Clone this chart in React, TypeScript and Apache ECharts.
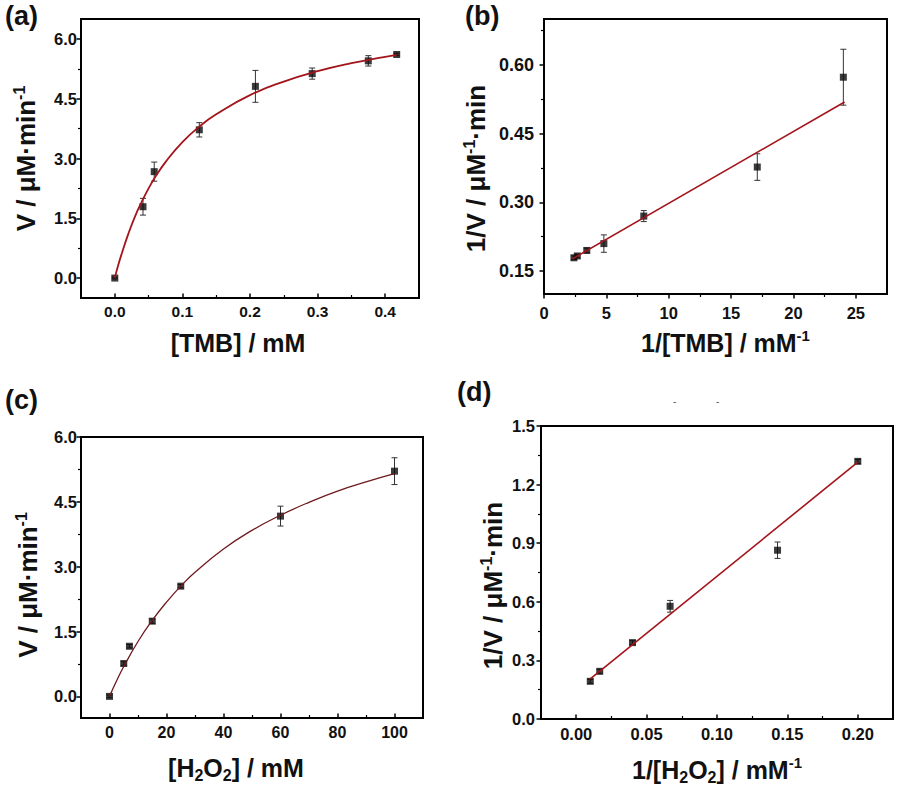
import React, { useEffect, useRef } from 'react';
import * as echarts from 'echarts';

// ---------- (a) V vs [TMB] ----------
const tmbConc = [0, 0.0417, 0.0583, 0.125, 0.208, 0.292, 0.375, 0.417];
const tmbRate = [0, 1.79, 2.67, 3.72, 4.81, 5.13, 5.45, 5.61];
const tmbRateErr = [0.02, 0.21, 0.24, 0.18, 0.4, 0.14, 0.13, 0.03];
const tmbFitX = [0, 0.005, 0.01, 0.02, 0.03, 0.04, 0.05, 0.06, 0.075, 0.1, 0.125, 0.15, 0.2, 0.25, 0.3, 0.35, 0.4, 0.417];
const tmbFitV = [0, 0.32, 0.6, 1.11, 1.55, 1.92, 2.25, 2.54, 2.91, 3.41, 3.8, 4.11, 4.59, 4.93, 5.19, 5.39, 5.55, 5.6];
const aXMajor = [0, 0.1, 0.2, 0.3, 0.4];
const aXMinor = [0.05, 0.15, 0.25, 0.35];
const aYMajor = [0, 1.5, 3, 4.5, 6];
const aYMinor = [0.75, 2.25, 3.75, 5.25];

// ---------- (b) 1/V vs 1/[TMB] ----------
const invTmb = [2.4, 2.67, 3.43, 4.8, 8.0, 17.1, 24.0];
const invTmbRate = [0.179, 0.183, 0.195, 0.21, 0.27, 0.377, 0.573];
const invTmbErr = [0.004, 0.004, 0.005, 0.019, 0.012, 0.029, 0.061];
const invTmbFitX = [2.3, 24.1];
const invTmbFitY = [0.177, 0.519];
const bXMajor = [0, 5, 10, 15, 20, 25];
const bXMinor = [2.5, 7.5, 12.5, 17.5, 22.5];
const bYMajor = [0.15, 0.3, 0.45, 0.6];
const bYMinor = [0.225, 0.375, 0.525, 0.675];

// ---------- (c) V vs [H2O2] ----------
const h2o2Conc = [0, 5, 7, 15, 25, 60, 100];
const h2o2Rate = [0, 0.76, 1.16, 1.74, 2.55, 4.17, 5.21];
const h2o2RateErr = [0.03, 0.04, 0.04, 0.05, 0.04, 0.23, 0.31];
const h2o2FitX = [0, 2.5, 5, 10, 15, 20, 25, 30, 40, 50, 60, 70, 80, 90, 100];
const h2o2FitV = [0, 0.36, 0.69, 1.27, 1.76, 2.18, 2.55, 2.87, 3.41, 3.84, 4.19, 4.49, 4.75, 4.96, 5.15];
const cXMajor = [0, 20, 40, 60, 80, 100];
const cXMinor = [10, 30, 50, 70, 90];
const cYMajor = [0, 1.5, 3, 4.5, 6];
const cYMinor = [0.75, 2.25, 3.75, 5.25];

// ---------- (d) 1/V vs 1/[H2O2] ----------
const invH2o2 = [0.01, 0.0167, 0.04, 0.0667, 0.143, 0.2];
const invH2o2Rate = [0.193, 0.244, 0.391, 0.577, 0.864, 1.319];
const invH2o2Err = [0.01, 0.01, 0.01, 0.03, 0.042, 0.01];
const invH2o2FitX = [0.01, 0.2];
const invH2o2FitY = [0.205, 1.315];
const dXMajor = [0, 0.05, 0.1, 0.15, 0.2];
const dXMinor = [0.025, 0.075, 0.125, 0.175];
const dYMajor = [0, 0.3, 0.6, 0.9, 1.2, 1.5];
const dYMinor = [0.15, 0.45, 0.75, 1.05, 1.35];

const FONT = '"Liberation Sans", Arial, Helvetica, sans-serif';
const INK = '#111';

function makeRich(size: number) {
  return {
    n: { fontSize: size, fontWeight: 'bold', fontFamily: FONT, color: INK, lineHeight: 30 },
    p: { fontSize: Math.round(size * 0.6), fontWeight: 'bold', fontFamily: FONT, color: INK, lineHeight: 20, verticalAlign: 'top' },
    s: { fontSize: Math.round(size * 0.62), fontWeight: 'bold', fontFamily: FONT, color: INK, lineHeight: 14, verticalAlign: 'bottom' },
  };
}

function axisPair(
  dim: 'x' | 'y',
  gi: number,
  min: number,
  max: number,
  major: number[],
  minor: number[],
  fmt: (v: number) => string,
  inside: boolean,
  labelMargin: number,
  labelSize: number,
  name: string,
  nameSize: number,
  nameGap: number,
  namePad: number[]
) {
  const position = dim === 'x' ? 'bottom' : 'left';
  const main = {
    type: 'value',
    gridIndex: gi,
    position,
    min,
    max,
    axisLine: { show: true, onZero: false, lineStyle: { color: '#000', width: 2 } },
    axisTick: { show: true, inside, length: 4.5, customValues: major, lineStyle: { color: '#000', width: 1.5 } },
    axisLabel: {
      show: true,
      customValues: major,
      formatter: fmt,
      margin: labelMargin,
      color: INK,
      fontSize: labelSize,
      fontWeight: 'bold',
      fontFamily: FONT,
    },
    splitLine: { show: false },
    name,
    nameLocation: 'middle',
    nameGap,
    nameMoveOverlap: false,
    nameTextStyle: {
      fontSize: nameSize,
      fontWeight: 'bold',
      fontFamily: FONT,
      color: INK,
      padding: namePad,
      rich: makeRich(nameSize),
    },
  };
  const sub = {
    type: 'value',
    gridIndex: gi,
    position,
    min,
    max,
    axisLine: { show: false, onZero: false },
    axisTick: { show: true, inside, length: 3, customValues: minor, lineStyle: { color: '#000', width: 1.2 } },
    axisLabel: { show: false },
    splitLine: { show: false },
  };
  return [main, sub];
}

function errorBarItem(_params: any, api: any) {
  const x = api.value(0);
  const lo = api.value(1);
  const hi = api.value(2);
  const pHi = api.coord([x, hi]);
  const pLo = api.coord([x, lo]);
  const cw = 3;
  const st = { stroke: '#333', lineWidth: 1 };
  return {
    type: 'group',
    children: [
      { type: 'line', shape: { x1: pHi[0], y1: pHi[1], x2: pLo[0], y2: pLo[1] }, style: st },
      { type: 'line', shape: { x1: pHi[0] - cw, y1: pHi[1], x2: pHi[0] + cw, y2: pHi[1] }, style: st },
      { type: 'line', shape: { x1: pLo[0] - cw, y1: pLo[1], x2: pLo[0] + cw, y2: pLo[1] }, style: st },
    ],
  };
}

function panelSeries(
  gi: number,
  xs: number[],
  ys: number[],
  errs: number[],
  fitX: number[],
  fitY: number[],
  lineColor: string,
  lineWidth: number,
  smooth: boolean
) {
  const xi = gi * 2;
  const yi = gi * 2;
  return [
    {
      type: 'custom',
      xAxisIndex: xi,
      yAxisIndex: yi,
      renderItem: errorBarItem,
      encode: { x: 0, y: [1, 2] },
      data: xs.map((x, i) => [x, ys[i] - errs[i], ys[i] + errs[i]]),
      z: 2,
      silent: true,
    },
    {
      type: 'scatter',
      xAxisIndex: xi,
      yAxisIndex: yi,
      symbol: 'rect',
      symbolSize: 7,
      itemStyle: { color: '#0a0a0a' },
      data: xs.map((x, i) => [x, ys[i]]),
      z: 3,
      silent: true,
    },
    {
      type: 'line',
      xAxisIndex: xi,
      yAxisIndex: yi,
      showSymbol: false,
      smooth,
      lineStyle: { color: lineColor, width: lineWidth },
      data: fitX.map((x, i) => [x, fitY[i]]),
      z: 4,
      silent: true,
    },
  ];
}

const f1 = (v: number) => v.toFixed(1);
const f2 = (v: number) => v.toFixed(2);
const f0 = (v: number) => String(Math.round(v));

export default function App() {
  const ref = useRef<HTMLDivElement>(null);
  useEffect(() => {
    if (!ref.current) return;
    const chart = echarts.init(ref.current, null, { renderer: 'svg' });

    const grids = [
      { left: 81, top: 19, width: 338, height: 279 },
      { left: 544, top: 19, width: 343, height: 275 },
      { left: 81, top: 437, width: 342, height: 281 },
      { left: 541, top: 426, width: 352, height: 293 },
    ].map((g) => ({
      ...g,
      show: true,
      borderColor: '#000',
      borderWidth: 2,
      backgroundColor: 'transparent',
      containLabel: false,
      outerBoundsMode: 'none',
    }));

    const xAxes = [
      ...axisPair('x', 0, -0.05, 0.45, aXMajor, aXMinor, f1, true, 5, 15.5, '{n|[TMB] / mM}', 25, 30, [0, 24, 0, 0]),
      ...axisPair('x', 1, 0, 27.5, bXMajor, bXMinor, f0, false, 10, 16.5, '{n|1/[TMB] / mM}{p|-1}', 25, 34, [0, 0, 0, 20]),
      ...axisPair('x', 2, -10, 110, cXMajor, cXMinor, f0, true, 6, 16, '{n|[H}{s|2}{n|O}{s|2}{n|] / mM}', 25, 35, [0, 32, 0, 0]),
      ...axisPair('x', 3, -0.025, 0.225, dXMajor, dXMinor, f2, true, 6, 16.5, '{n|1/[H}{s|2}{n|O}{s|2}{n|] / mM}{p|-1}', 25, 36, [0, 0, 0, 0]),
    ];
    const yAxes = [
      ...axisPair('y', 0, -0.5, 6.5, aYMajor, aYMinor, f1, false, 4, 16.5, '{n|V / μM·min}{p|-1}', 26, 40, [0, 0, 0, 0]),
      ...axisPair('y', 1, 0.1, 0.7, bYMajor, bYMinor, f2, false, 10, 18, '{n|1/V / μM}{p|-1}{n|·min}', 26, 53, [0, 24, 0, 0]),
      ...axisPair('y', 2, -0.5, 6, cYMajor, cYMinor, f1, false, 4, 16.5, '{n|V / μM·min}{p|-1}', 26, 38, [0, 15, 0, 0]),
      ...axisPair('y', 3, 0, 1.5, dYMajor, dYMinor, f1, false, 6, 16.5, '{n|1/V / μM}{p|-1}{n|·min}', 26, 33, [0, 26, 0, 0]),
    ];

    const series = [
      ...panelSeries(0, tmbConc, tmbRate, tmbRateErr, tmbFitX, tmbFitV, '#a3141b', 1.8, true),
      ...panelSeries(1, invTmb, invTmbRate, invTmbErr, invTmbFitX, invTmbFitY, '#a3141b', 1.6, false),
      ...panelSeries(2, h2o2Conc, h2o2Rate, h2o2RateErr, h2o2FitX, h2o2FitV, '#6e1a1f', 1.3, true),
      ...panelSeries(3, invH2o2, invH2o2Rate, invH2o2Err, invH2o2FitX, invH2o2FitY, '#a3141b', 1.6, false),
    ];

    const panelLabel = (text: string, left: number, top: number) => ({
      type: 'text',
      left,
      top,
      style: { text, fill: INK, font: `bold 27px ${FONT}` },
    });

    chart.setOption({
      animation: false,
      backgroundColor: '#fff',
      grid: grids,
      xAxis: xAxes,
      yAxis: yAxes,
      series,
      graphic: [
        panelLabel('(a)', 5, 2),
        panelLabel('(b)', 465, 2),
        panelLabel('(c)', 5, 386),
        panelLabel('(d)', 457, 378),
        { type: 'text', left: 673, top: 396, style: { text: '-', fill: '#555', font: `10px ${FONT}` } },
        { type: 'text', left: 716, top: 396, style: { text: '-', fill: '#555', font: `10px ${FONT}` } },
      ],
    });
    return () => chart.dispose();
  }, []);
  return (
    <div
      ref={ref}
      style={{ position: 'absolute', left: 0, top: 0, width: 897, height: 793, background: '#fff' }}
    />
  );
}
